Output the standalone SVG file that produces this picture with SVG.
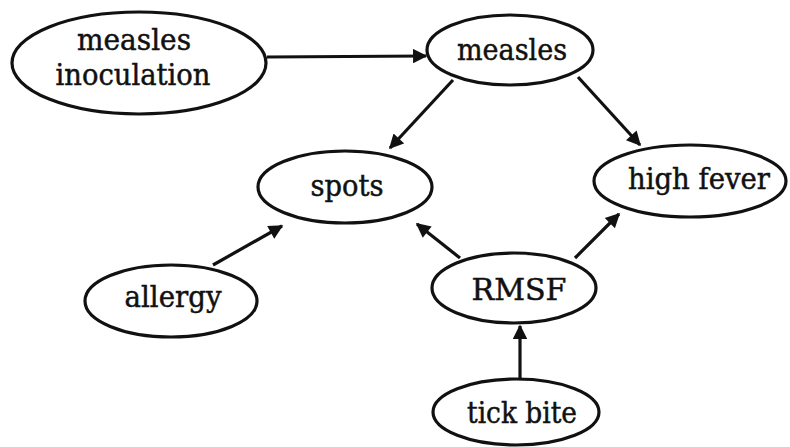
<svg xmlns="http://www.w3.org/2000/svg" width="790" height="447" viewBox="0 0 790 447">
<style>
.n{fill:#fff;stroke:#111;stroke-width:3.2}
.t{font-family:"DejaVu Serif","Liberation Serif",serif;font-size:30px;fill:#111;stroke:#111;stroke-width:0.5;text-anchor:middle}
.e{stroke:#111;stroke-width:3.2;fill:none;marker-end:url(#ah)}
</style>
<defs>
<marker id="ah" viewBox="0 0 10 10" refX="9" refY="5" markerWidth="5" markerHeight="4.5" orient="auto" markerUnits="strokeWidth">
<path d="M0,0 L10,5 L0,10 z" fill="#111"/>
</marker>
</defs>
<rect width="790" height="447" fill="#fff"/>
<g id="edges">
<line class="e" x1="267" y1="57" x2="426" y2="56"/>
<line class="e" x1="453" y1="80" x2="390" y2="148"/>
<line class="e" x1="578" y1="77" x2="640" y2="145"/>
<line class="e" x1="213" y1="265" x2="282" y2="226"/>
<line class="e" x1="460" y1="258" x2="417" y2="224"/>
<line class="e" x1="575" y1="258" x2="619" y2="214"/>
<line class="e" x1="520" y1="380" x2="520" y2="326"/>
</g>
<g id="measles_inoculation">
<ellipse class="n" cx="139" cy="63" rx="127" ry="51"/>
<text class="t" x="134" y="50" textLength="114" lengthAdjust="spacingAndGlyphs">measles</text>
<text class="t" x="133" y="85" textLength="155" lengthAdjust="spacingAndGlyphs">inoculation</text>
</g>
<g id="measles">
<ellipse class="n" cx="510" cy="50" rx="83" ry="35"/>
<text class="t" x="512" y="60" textLength="110" lengthAdjust="spacingAndGlyphs">measles</text>
</g>
<g id="high_fever">
<ellipse class="n" cx="690" cy="181" rx="96" ry="36"/>
<text class="t" x="699" y="189" textLength="142" lengthAdjust="spacingAndGlyphs">high fever</text>
</g>
<g id="spots">
<ellipse class="n" cx="345" cy="187" rx="87" ry="36"/>
<text class="t" x="347" y="196" textLength="73" lengthAdjust="spacingAndGlyphs">spots</text>
</g>
<g id="allergy">
<ellipse class="n" cx="171" cy="301" rx="86" ry="36"/>
<text class="t" x="173" y="307" textLength="97" lengthAdjust="spacingAndGlyphs">allergy</text>
</g>
<g id="RMSF">
<ellipse class="n" cx="514" cy="288" rx="82" ry="35"/>
<text class="t" x="519" y="300" textLength="95" lengthAdjust="spacingAndGlyphs">RMSF</text>
</g>
<g id="tick_bite">
<ellipse class="n" cx="516" cy="412" rx="83" ry="33"/>
<text class="t" x="522" y="423" textLength="110" lengthAdjust="spacingAndGlyphs">tick bite</text>
</g>
</svg>
